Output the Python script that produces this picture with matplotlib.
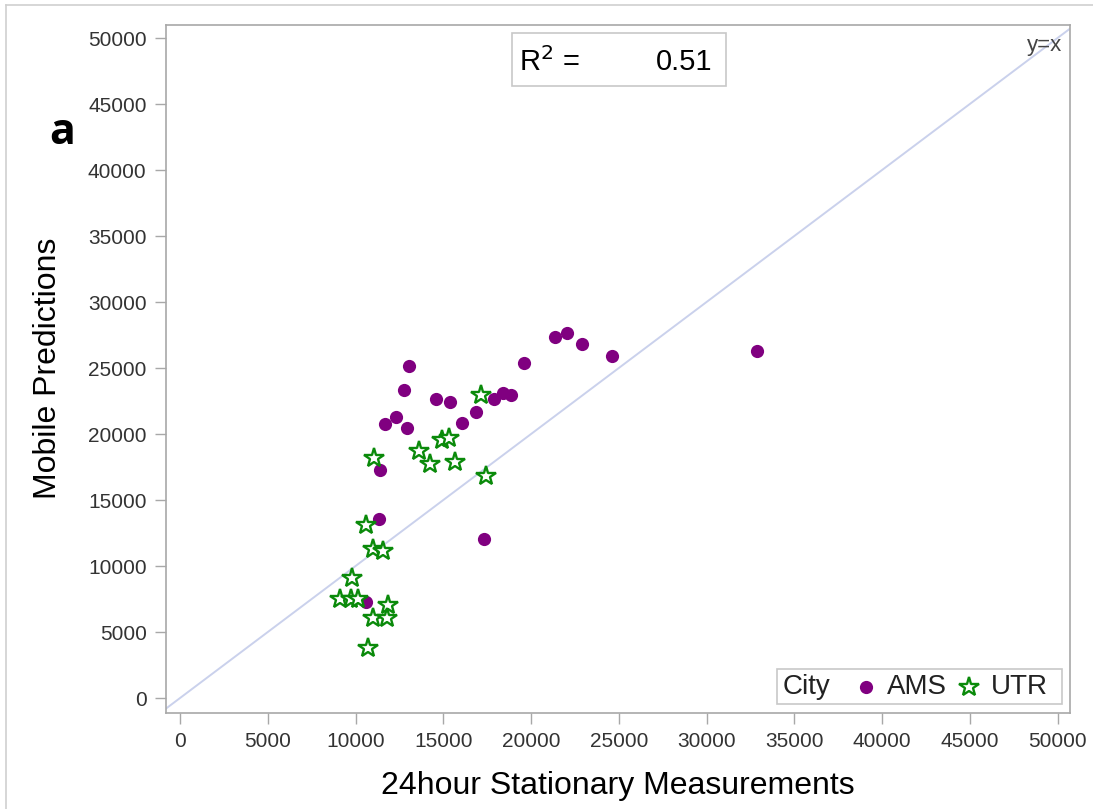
import matplotlib
matplotlib.use("Agg")
import matplotlib.pyplot as plt
from matplotlib.lines import Line2D
from matplotlib.patches import Rectangle
from matplotlib.offsetbox import (AnchoredOffsetbox, HPacker, TextArea,
                                  DrawingArea)

plt.rcParams['font.family'] = ['Liberation Sans', 'DejaVu Sans']

# ---- data ----
ams_x = [11396, 11356, 10598, 17322, 13048, 12764, 11681, 12290, 12954, 14605,
         15385, 16087, 16847, 17910, 18385, 18842, 19601, 21367, 22070, 22925,
         24596, 32860]
ams_y = [17273, 13560, 7250, 12023, 25152, 23310, 20735, 21265, 20477, 22674,
         22400, 20856, 21644, 22652, 23131, 22924, 25402, 27371, 27626, 26818,
         25932, 26310]

utr_x = [11035, 13618, 14245, 14929, 15328, 15670, 17151, 17436, 10579, 11016,
         11586, 9782, 9117, 9725, 10123, 11871, 11016, 11776, 10731]
utr_y = [18157, 18712, 17727, 19545, 19672, 17904, 22955, 16818, 13106, 11263,
         11136, 9066, 7477, 7477, 7477, 7045, 6038, 6038, 3765]

ticks = [0, 5000, 10000, 15000, 20000, 25000, 30000, 35000, 40000, 45000, 50000]
r2_text = "0.51"
x_label = "24hour Stationary Measurements"
y_label = "Mobile Predictions"
legend_title = "City"
cities = ["AMS", "UTR"]

PURPLE = "#800080"
GREEN = "#0a8a0a"
FRAME = "#a8a8a8"
TXT = "#333333"

fig = plt.figure(figsize=(10.93, 8.09), dpi=100)
ax = fig.add_axes([0.1519, 0.119, 0.8271, 0.8507])

# y = x reference line
ax.plot([-2000, 53000], [-2000, 53000], color="#cad1ec", lw=1.4, zorder=1)

ams_style = dict(linestyle="none", marker="o", markersize=9.5,
                 color=PURPLE, markeredgewidth=0)
utr_style = dict(linestyle="none", marker="*", markersize=15,
                 markerfacecolor="white", markeredgecolor=GREEN,
                 markeredgewidth=1.7)
ax.plot(ams_x, ams_y, zorder=3, **ams_style)
ax.plot(utr_x, utr_y, zorder=4, **utr_style)

ax.set_xlim(-798, 50712)
ax.set_ylim(-1114, 51023)
ax.set_xticks(ticks)
ax.set_yticks(ticks)
ax.set_xticklabels([str(t) for t in ticks])
ax.set_yticklabels([str(t) for t in ticks])
ax.tick_params(direction="out", length=8, width=1, color=FRAME,
               labelcolor=TXT, labelsize=15, pad=6)
for s in ax.spines.values():
    s.set_color(FRAME)
    s.set_linewidth(1.2)

ax.set_xlabel(x_label, fontsize=23, color="black", labelpad=14)
ax.set_ylabel(y_label, fontsize=23, color="black", labelpad=18)

# y=x label
ax.text(0.991, 0.970, "y=x", transform=ax.transAxes, ha="right", va="center",
        fontsize=16, color="#444444")

# R^2 box
ax.add_patch(Rectangle((0.3824, 0.9111), 0.2368, 0.0761, transform=ax.transAxes,
                       facecolor="white", edgecolor="#c8c8c8", lw=1.2, zorder=5))
ax.text(0.3905, 0.9455, "R$^2$ =", transform=ax.transAxes, ha="left",
        va="center", fontsize=21, zorder=6)
ax.text(0.604, 0.9455, r2_text, transform=ax.transAxes, ha="right",
        va="center", fontsize=21, zorder=6)

# legend: "City  ● AMS  ☆ UTR" in one row
def marker_area(style, size_pts):
    da = DrawingArea(size_pts, size_pts, 0, 0)
    da.add_artist(Line2D([size_pts / 2], [size_pts / 2], **style))
    return da

lg_props = dict(size=20, color="#222222")
title_box = TextArea(legend_title, textprops=lg_props)
sub = []
for style, name in zip([ams_style, utr_style], cities):
    sub.append(HPacker(children=[marker_area(style, 12),
                                 TextArea(name, textprops=lg_props)],
                       align="center", pad=0, sep=9.5))
row = HPacker(children=[title_box,
                        HPacker(children=sub, align="center", pad=0, sep=10)],
              align="center", pad=0, sep=19)
outer = HPacker(children=[DrawingArea(1.5, 1, 0, 0), row,
                          DrawingArea(7.5, 1, 0, 0)],
                align="center", pad=0, sep=0)
anch = AnchoredOffsetbox(loc="lower right", child=outer, pad=0.3,
                         borderpad=0, frameon=True,
                         bbox_to_anchor=(0.9915, 0.0131),
                         bbox_transform=ax.transAxes)
anch.patch.set_edgecolor("#c8c8c8")
anch.patch.set_linewidth(1.2)
anch.patch.set_boxstyle("square", pad=0)
anch.set_zorder(6)
ax.add_artist(anch)

# panel label
fig.text(62 / 1093, 1 - 133 / 809, "a", fontsize=31, fontweight="bold",
         family=["Open Sans", "DejaVu Sans"], ha="center", va="center")

# outer border lines
fig.add_artist(Line2D([6 / 1093, 6 / 1093], [0, 1 - 5 / 809],
                      transform=fig.transFigure, color="#cfcfcf", lw=1.2))
fig.add_artist(Line2D([6 / 1093, 1], [1 - 5 / 809, 1 - 5 / 809],
                      transform=fig.transFigure, color="#cfcfcf", lw=1.2))

fig.savefig("out.png", dpi=100, facecolor="white")
